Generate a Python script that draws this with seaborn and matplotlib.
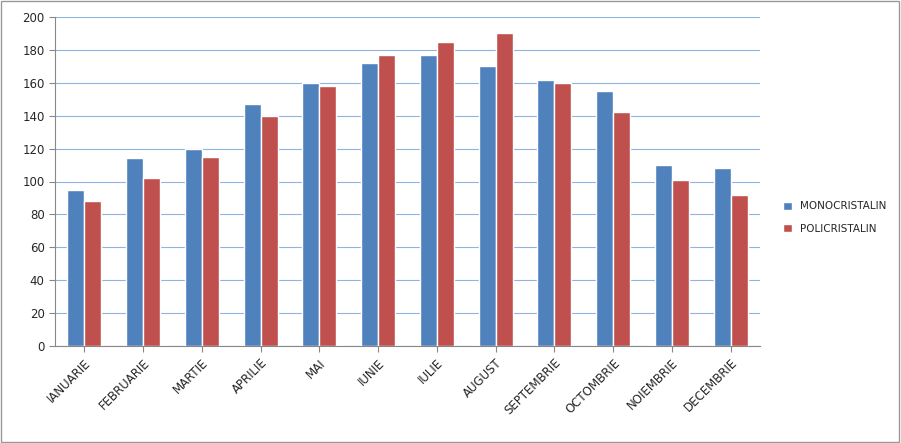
import seaborn as sns
import matplotlib.pyplot as plt
import pandas as pd

months = ['IANUARIE', 'FEBRUARIE', 'MARTIE', 'APRILIE', 'MAI', 'IUNIE', 'IULIE',
          'AUGUST', 'SEPTEMBRIE', 'OCTOMBRIE', 'NOIEMBRIE', 'DECEMBRIE']
mono = [95, 114, 120, 147, 160, 172, 177, 170, 162, 155, 110, 108]
poli = [88, 102, 115, 140, 158, 177, 185, 190, 160, 142, 101, 92]

df = pd.DataFrame({'Luna': months, 'MONOCRISTALIN': mono, 'POLICRISTALIN': poli})
tidy = df.melt(id_vars='Luna', var_name='Tip', value_name='Valoare')

sns.set_style('white')
plt.rcParams['font.family'] = ['DejaVu Sans']

fig = plt.figure(figsize=(9.01, 4.43), dpi=100)
ax = fig.add_axes([55 / 901, 1 - 346 / 443, 705 / 901, 329 / 443])

sns.barplot(data=tidy, x='Luna', y='Valoare', hue='Tip',
            palette=['#4F81BD', '#C0504D'], width=0.58, ax=ax, saturation=1)

ax.set_ylim(0, 200)
ax.set_yticks(range(0, 201, 20))
ax.yaxis.grid(True, color='#8EB4E3', linewidth=0.8)
ax.set_axisbelow(True)
ax.set_xlabel('')
ax.set_ylabel('')
ax.tick_params(axis='y', labelsize=8.5, length=4, color='#888888', left=True)
ax.tick_params(axis='x', labelsize=8.5, length=4, color='#888888', bottom=True)
plt.setp(ax.get_xticklabels(), rotation=45, ha='right', rotation_mode='anchor')
for s in ['top', 'right']:
    ax.spines[s].set_visible(False)
for s in ['left', 'bottom']:
    ax.spines[s].set_color('#888888')

ax.legend(loc='center left', bbox_to_anchor=(1.02, 0.39), frameon=False,
          fontsize=7.5, handlelength=0.8, handleheight=0.8, labelspacing=1.2)

fig.patches.append(plt.Rectangle((0.001, 0.002), 0.997, 0.996, transform=fig.transFigure,
                                 fill=False, edgecolor='#999999', linewidth=1))
fig.savefig('out.png', dpi=100)
